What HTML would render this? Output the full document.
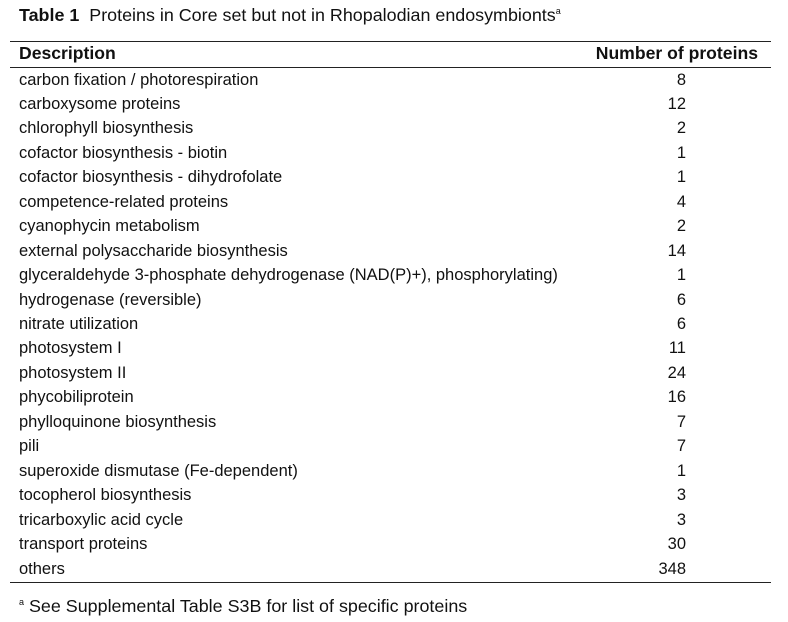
<!DOCTYPE html>
<html><head><meta charset="utf-8"><style>
body{margin:0;width:788px;height:622px;background:#fff;font-family:"Liberation Sans",sans-serif;color:#111;position:relative;overflow:hidden}
.a{position:absolute;white-space:nowrap}
.rule{position:absolute;left:10px;width:761px;background:#222}
.d{position:absolute;left:19px;font-size:16.5px;white-space:nowrap}
.n{position:absolute;right:102px;font-size:16.5px;text-align:right}
</style></head><body>
<div class="a" style="left:19px;top:5px;font-size:17.9px"><b>Table 1</b>&nbsp; Proteins in Core set but not in Rhopalodian endosymbionts<sup style="font-size:9px">a</sup></div>
<div class="rule" style="top:41px;height:1px"></div>
<div class="a" style="left:19px;top:43px;font-size:17.6px;font-weight:bold">Description</div>
<div class="a" style="right:30px;top:43px;font-size:17.6px;font-weight:bold">Number of proteins</div>
<div class="rule" style="top:67px;height:1px"></div>
<div id="rows"></div>
<div class="rule" style="top:582px;height:1px"></div>
<div class="a" style="left:19px;top:596px;font-size:17.9px"><sup style="font-size:9px">a</sup> See Supplemental Table S3B for list of specific proteins</div>
<script>
const categories=["carbon fixation / photorespiration","carboxysome proteins","chlorophyll biosynthesis","cofactor biosynthesis - biotin","cofactor biosynthesis - dihydrofolate","competence-related proteins","cyanophycin metabolism","external polysaccharide biosynthesis","glyceraldehyde 3-phosphate dehydrogenase (NAD(P)+), phosphorylating)","hydrogenase (reversible)","nitrate utilization","photosystem I","photosystem II","phycobiliprotein","phylloquinone biosynthesis","pili","superoxide dismutase (Fe-dependent)","tocopherol biosynthesis","tricarboxylic acid cycle","transport proteins","others"];
const counts=[8,12,2,1,1,4,2,14,1,6,6,11,24,16,7,7,1,3,3,30,348];
const c=document.getElementById('rows');
categories.forEach((t,i)=>{
  const top=70.5+i*24.45;
  const d=document.createElement('div');
  d.className='d';d.style.top=top+'px';d.textContent=t;
  
  
  c.appendChild(d);
  const n=document.createElement('div');
  n.className='n';n.style.top=top+'px';n.textContent=counts[i];
  
  
  c.appendChild(n);
});
</script>
</body></html>
